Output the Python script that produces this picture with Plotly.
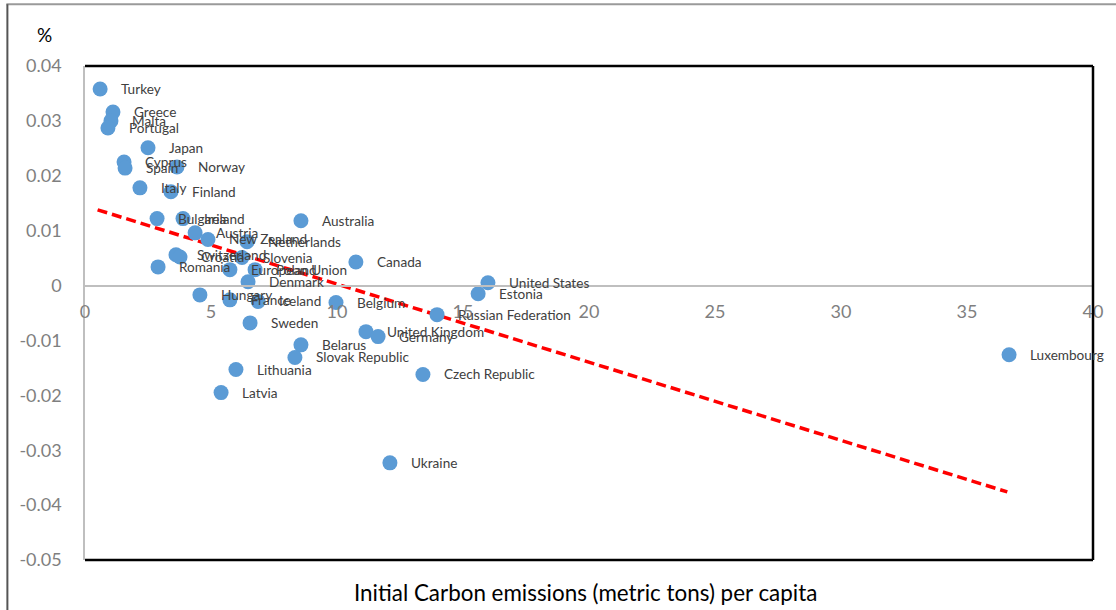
import plotly.graph_objects as go

countries = ["Turkey", "Greece", "Malta", "Portugal", "Japan", "Cyprus", "Spain", "Norway",
             "Italy", "Finland", "Bulgaria", "Ireland", "Australia", "Austria", "New Zealand",
             "Netherlands", "Switzerland", "Croatia", "Romania", "Slovenia", "European Union",
             "Poland", "Denmark", "Canada", "United States", "Estonia", "Hungary", "France",
             "Iceland", "Belgium", "Russian Federation", "Sweden", "United Kingdom", "Germany",
             "Belarus", "Slovak Republic", "Lithuania", "Latvia", "Czech Republic", "Ukraine",
             "Luxembourg"]
emissions = [0.60, 1.11, 1.03, 0.91, 2.50, 1.55, 1.59, 3.65,
             2.18, 3.41, 2.86, 3.89, 8.57, 4.37, 4.88,
             6.43, 3.61, 3.77, 2.90, 6.23, 5.75,
             6.75, 6.47, 10.75, 15.99, 15.60, 4.56, 5.75,
             6.87, 9.96, 13.97, 6.55, 11.15, 11.63,
             8.57, 8.33, 5.99, 5.40, 13.41, 12.10,
             36.67]
growth = [0.0358, 0.0316, 0.0300, 0.0287, 0.0251, 0.0225, 0.0214, 0.0216,
          0.0178, 0.0171, 0.0122, 0.0122, 0.0118, 0.0096, 0.0084,
          0.0080, 0.0056, 0.0052, 0.0034, 0.0051, 0.0029,
          0.0029, 0.0007, 0.0043, 0.0005, -0.0015, -0.0017, -0.0026,
          -0.0029, -0.0031, -0.0053, -0.0068, -0.0084, -0.0093,
          -0.0108, -0.0131, -0.0153, -0.0195, -0.0162, -0.0323,
          -0.0126]
trend_x = [0.5, 36.6]
trend_y = [0.0138, -0.0376]

x_ticks = [0, 5, 10, 15, 20, 25, 30, 35, 40]
y_ticks = [0.04, 0.03, 0.02, 0.01, 0, -0.01, -0.02, -0.03, -0.04, -0.05]
y_tick_labels = ["0.04", "0.03", "0.02", "0.01", "0", "-0.01", "-0.02", "-0.03", "-0.04", "-0.05"]
x_range = [0, 40]
y_range = [-0.05, 0.04]

LABEL_FONT = "Lato, Open Sans, sans-serif"

fig = go.Figure()
fig.add_trace(go.Scatter(
    x=trend_x, y=trend_y, mode="lines",
    line=dict(color="#FF0000", width=3.5, dash="10px,5px"),
    hoverinfo="skip", showlegend=False))
fig.add_trace(go.Scatter(
    x=emissions, y=growth, mode="markers",
    marker=dict(color="#5B9BD5", size=15),
    showlegend=False))

annotations = []
for name, xv, yv in zip(countries, emissions, growth):
    annotations.append(dict(x=xv, y=yv, xref="x", yref="y", text=name, showarrow=False,
                            xanchor="left", yanchor="middle", xshift=19,
                            font=dict(family=LABEL_FONT, size=13.6, color="#404040")))
annotations.append(dict(x=-0.0397, y=1.063, xref="paper", yref="paper", text="%",
                        showarrow=False, xanchor="center", yanchor="middle",
                        font=dict(family=LABEL_FONT, size=19, color="#000000")))
annotations.append(dict(x=0.497, y=-0.0657, xref="paper", yref="paper",
                        text="Initial Carbon emissions (metric tons) per capita",
                        showarrow=False, xanchor="center", yanchor="middle",
                        font=dict(family=LABEL_FONT, size=22.4, color="#000000")))

zero_pos = (0 - y_range[0]) / (y_range[1] - y_range[0])

shapes = [
    dict(type="line", xref="paper", yref="paper", x0=0, x1=1, y0=1, y1=1,
         line=dict(color="#000000", width=2.5)),
    dict(type="line", xref="paper", yref="paper", x0=1, x1=1, y0=0, y1=1,
         line=dict(color="#000000", width=2.5)),
    dict(type="line", xref="paper", yref="paper", x0=0, x1=1, y0=0, y1=0,
         line=dict(color="#000000", width=2.5)),
    dict(type="line", xref="paper", yref="paper", x0=-0.078, x1=1.03, y0=1.125, y1=1.125,
         line=dict(color="#9a9a9a", width=2)),
    dict(type="line", xref="paper", yref="paper", x0=-0.077, x1=-0.077, y0=-0.11, y1=1.125,
         line=dict(color="#555555", width=2)),
]

fig.update_layout(
    width=1116, height=610,
    margin=dict(l=85, r=23, t=66, b=49.5, autoexpand=False),
    paper_bgcolor="white", plot_bgcolor="white",
    annotations=annotations, shapes=shapes,
    xaxis=dict(range=x_range, tickvals=x_ticks, showgrid=False, zeroline=False,
               showline=True, linecolor="#bfbfbf", linewidth=1.5,
               anchor="free", position=zero_pos, automargin=False,
               ticks="outside", ticklen=10, tickcolor="rgba(0,0,0,0)",
               tickfont=dict(family=LABEL_FONT, size=18, color="#7f7f7f")),
    yaxis=dict(range=y_range, tickvals=y_ticks, ticktext=y_tick_labels,
               showgrid=False, zeroline=False, automargin=False,
               showline=True, linecolor="#bfbfbf", linewidth=1.5,
               ticks="outside", ticklen=18, tickcolor="rgba(0,0,0,0)",
               tickfont=dict(family=LABEL_FONT, size=18, color="#7f7f7f")),
)

fig.write_html("out.html", config={"displayModeBar": False},
               post_script="document.body.style.margin='0';document.body.style.overflow='hidden';")
